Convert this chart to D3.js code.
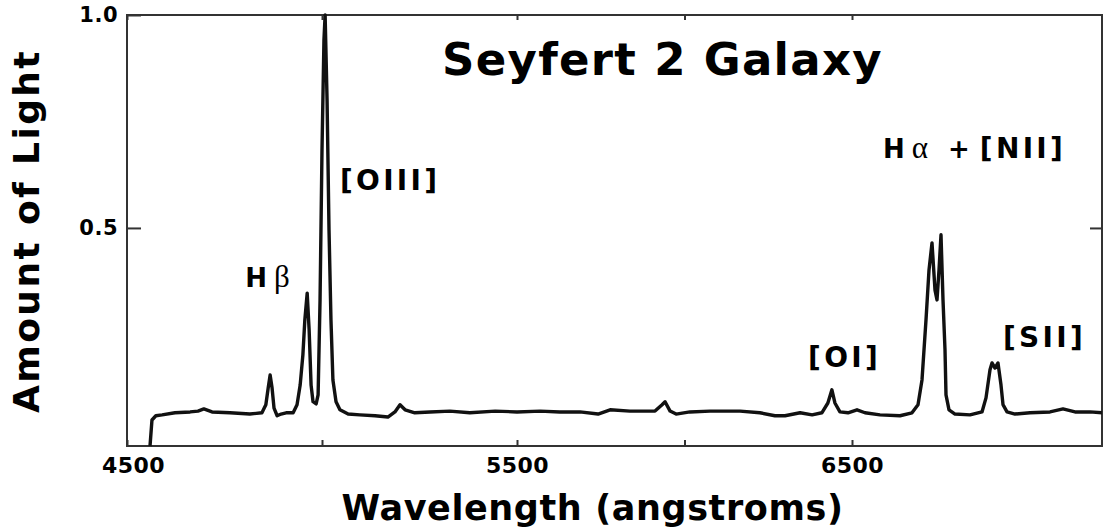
<!DOCTYPE html>
<html>
<head>
<meta charset="utf-8">
<script src="https://cdn.jsdelivr.net/npm/d3@7"></script>
<style>
  body { margin: 0; background: #fff; }
  text { font-family: "DejaVu Sans", Verdana, sans-serif; font-weight: bold; fill: #000; }
  .greek { font-family: "Liberation Serif", "DejaVu Serif", serif; font-weight: normal; }
</style>
</head>
<body>
<div id="chart"></div>
<script>
// spectrum: wavelength (angstroms) and relative light
var wavelength = [4559, 4564, 4574, 4590, 4623, 4662, 4682, 4697, 4718, 4764, 4815, 4846, 4856, 4862, 4867, 4872, 4877, 4885, 4895, 4908,
  4926, 4936, 4944, 4951, 4956, 4962, 4967, 4972, 4977, 4985, 4990, 4995, 5000, 5005, 5008, 5013, 5018, 5023, 5028, 5036,
  5046, 5067, 5097, 5136, 5169, 5187, 5200, 5213, 5238, 5277, 5328, 5379, 5444, 5500, 5569, 5628, 5688, 5742, 5778, 5837,
  5912, 5933, 5942, 5957, 5975, 6016, 6076, 6166, 6225, 6270, 6300, 6345, 6381, 6410, 6428, 6440, 6449, 6464, 6488, 6515,
  6539, 6584, 6644, 6680, 6698, 6710, 6722, 6731, 6740, 6749, 6755, 6761, 6767, 6773, 6779, 6782, 6791, 6809, 6854, 6890,
  6902, 6914, 6920, 6929, 6938, 6947, 6953, 6965, 6989, 7034, 7094, 7133, 7169, 7214, 7250]
var light = [-0.012, 0.049, 0.059, 0.061, 0.066, 0.068, 0.070, 0.075, 0.068, 0.066, 0.063, 0.066, 0.085, 0.124, 0.155, 0.124, 0.077, 0.059, 0.063, 0.066,
  0.066, 0.085, 0.131, 0.202, 0.284, 0.347, 0.261, 0.131, 0.092, 0.087, 0.108, 0.331, 0.683, 0.941, 1.0, 0.800, 0.495, 0.284, 0.143, 0.092,
  0.073, 0.063, 0.061, 0.059, 0.056, 0.068, 0.085, 0.073, 0.066, 0.068, 0.070, 0.066, 0.070, 0.068, 0.070, 0.068, 0.068, 0.063, 0.073, 0.070,
  0.070, 0.085, 0.092, 0.070, 0.063, 0.068, 0.070, 0.070, 0.066, 0.059, 0.059, 0.066, 0.061, 0.066, 0.089, 0.120, 0.089, 0.068, 0.066, 0.073,
  0.066, 0.061, 0.059, 0.066, 0.085, 0.143, 0.284, 0.401, 0.465, 0.354, 0.331, 0.401, 0.484, 0.331, 0.214, 0.108, 0.073, 0.063, 0.061, 0.068,
  0.101, 0.167, 0.183, 0.171, 0.183, 0.131, 0.085, 0.068, 0.063, 0.066, 0.068, 0.075, 0.068, 0.068, 0.066]

var xTicks = [4500, 5000, 5500, 6000, 6500]
var xLabels = ["4500", "", "5500", "", "6500"]
var yTicks = [0.5, 1.0]

// emission line labels: element, greek letter, ion part
var lineNames = ["H", "", "H", "", ""]
var lineGreek = ["\u03b2", "", "\u03b1", "", ""]
var lineIons = ["", "[OIII]", "[NII]", "[OI]", "[SII]"]
var lineAt = [4803, 5046, 6593, 6369, 6953]
var lineLevel = [0.362, 0.589, 0.664, 0.174, 0.221]

var margin = {top: 15, right: 4, bottom: 85, left: 127},
    width = 1106 - margin.left - margin.right,
    height = 531 - margin.top - margin.bottom;

var svg = d3.select("#chart").append("svg")
    .attr("width", 1106)
    .attr("height", 531)
  .append("g")
    .attr("transform", "translate(" + margin.left + "," + margin.top + ")");

// the printed axis is not evenly spaced, so a piecewise scale
var x = d3.scaleLinear()
    .domain([4500, 5500, 6500, 7250])
    .range([0, 390, 725, width]);

var y = d3.scaleLinear()
    .domain([-0.012, 1.0])
    .range([height, 0]);

// frame
svg.append("rect")
    .attr("width", width)
    .attr("height", height)
    .attr("fill", "none")
    .attr("stroke", "#333")
    .attr("stroke-width", 2);

// bottom axis, ticks pointing in
var xAxis = svg.append("g")
    .attr("transform", "translate(0," + height + ")")
    .call(d3.axisBottom(x).tickValues(xTicks).tickSizeInner(-6).tickSizeOuter(0)
      .tickPadding(11).tickFormat((d, i) => xLabels[i]));
xAxis.select(".domain").remove();
xAxis.selectAll("line").attr("stroke", "#333").attr("stroke-width", 2);
xAxis.selectAll("text").attr("font-size", 22).attr("letter-spacing", 0.5).attr("fill", "#000");
xAxis.selectAll("text").filter(d => d == 4500).attr("dx", 6);

var topAxis = svg.append("g")
    .call(d3.axisTop(x).tickValues(xTicks).tickSizeInner(-5).tickSizeOuter(0).tickFormat(""));
topAxis.select(".domain").remove();
topAxis.selectAll("line").attr("stroke", "#333").attr("stroke-width", 2);

var yAxis = svg.append("g")
    .call(d3.axisLeft(y).tickValues(yTicks).tickSizeInner(-14).tickSizeOuter(0)
      .tickPadding(9).tickFormat(d3.format(".1f")));
yAxis.select(".domain").remove();
yAxis.selectAll("line").attr("stroke", "#333").attr("stroke-width", 2);
yAxis.selectAll("text").attr("font-size", 21).attr("letter-spacing", 0.5).attr("fill", "#000");

var rightAxis = svg.append("g")
    .attr("transform", "translate(" + width + ",0)")
    .call(d3.axisRight(y).tickValues([0.5]).tickSizeInner(-12).tickSizeOuter(0).tickFormat(""));
rightAxis.select(".domain").remove();
rightAxis.selectAll("line").attr("stroke", "#333").attr("stroke-width", 2);

// spectrum
var line = d3.line()
    .x((d, i) => x(wavelength[i]))
    .y(d => y(d));

svg.append("path")
    .datum(light)
    .attr("fill", "none")
    .attr("stroke", "#111")
    .attr("stroke-width", 3.4)
    .attr("stroke-linejoin", "round")
    .attr("d", line);

// emission line labels
lineIons.forEach(function(ion, i) {
  var t = svg.append("text")
      .attr("x", x(lineAt[i]))
      .attr("y", y(lineLevel[i]))
      .attr("font-size", 26);
  if (lineNames[i]) {
    t.append("tspan").text(lineNames[i]);
    t.append("tspan").attr("class", "greek").attr("dx", 7).attr("font-size", 31).text(lineGreek[i]);
  }
  if (ion) {
    if (lineNames[i]) t.append("tspan").attr("dx", 20).text("+");
    t.append("tspan").attr("dx", lineNames[i] ? 10 : 0)
      .attr("font-size", 28).attr("letter-spacing", 3.3).text(ion);
  }
});

svg.append("text")
    .attr("x", 315)
    .attr("y", 60)
    .attr("font-size", 45)
    .attr("letter-spacing", 1.3)
    .text("Seyfert 2 Galaxy");

svg.append("text")
    .attr("x", width / 2 - 22)
    .attr("y", height + 74)
    .attr("text-anchor", "middle")
    .attr("font-size", 35)
    .attr("letter-spacing", 0.6)
    .text("Wavelength (angstroms)");

svg.append("text")
    .attr("transform", "rotate(-90)")
    .attr("x", -216)
    .attr("y", -88)
    .attr("text-anchor", "middle")
    .attr("font-size", 36)
    .attr("letter-spacing", 2.4)
    .text("Amount of Light");
</script>
</body>
</html>
